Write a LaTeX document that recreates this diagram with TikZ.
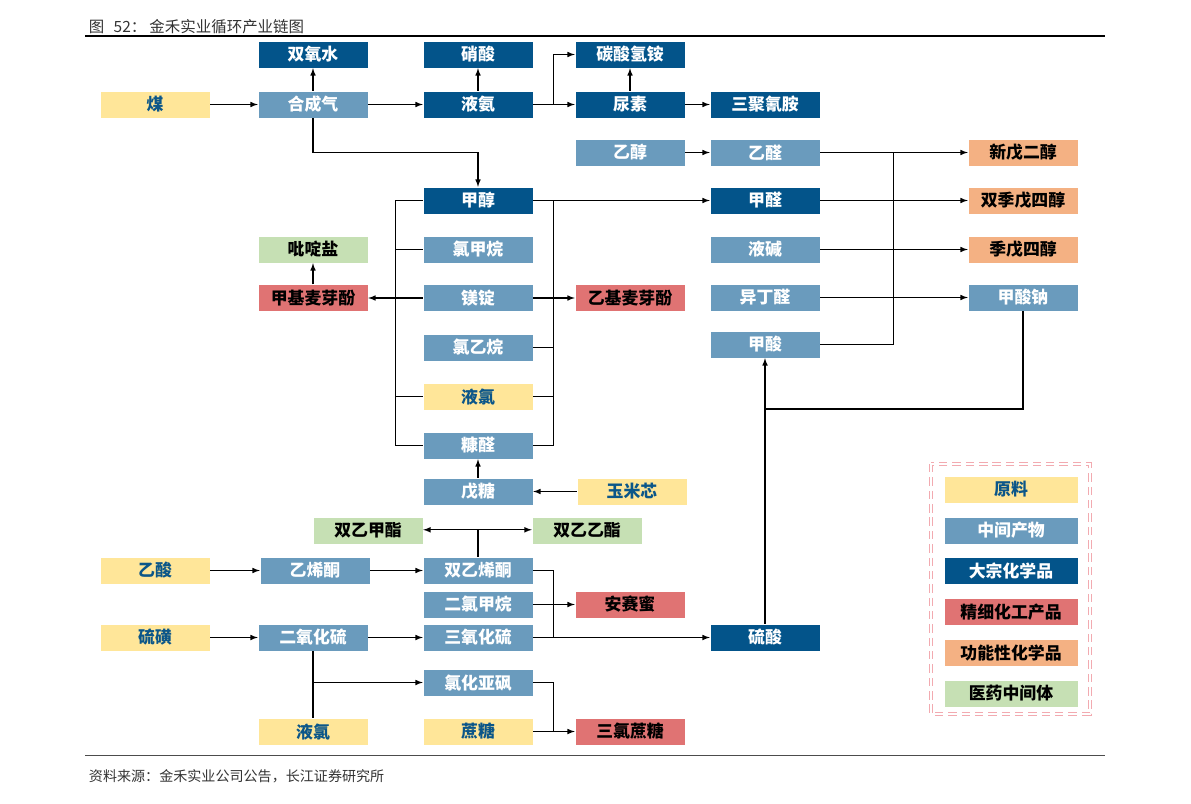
\documentclass[tikz,border=0pt]{standalone}
\usepackage{fontspec}
\setmainfont{Noto Sans CJK SC}
\usepackage{tikz}
\usetikzlibrary{arrows}
\definecolor{raw}{HTML}{FFE699}
\definecolor{rawtext}{HTML}{0B5689}
\definecolor{mid}{HTML}{6A9BBD}
\definecolor{bulk}{HTML}{03548A}
\definecolor{fine}{HTML}{E07373}
\definecolor{func}{HTML}{F4B183}
\definecolor{med}{HTML}{C6E0B4}
\definecolor{legline}{HTML}{F2AAB0}

\begin{document}
\begin{tikzpicture}[x=0.025cm,y=-0.025cm,>=latex,
	box/.style={minimum width=2.75cm,minimum height=0.675cm,inner sep=0pt,draw=white,line width=0.3pt,font=\fontsize{12}{14}\selectfont\bfseries},
	rawbox/.style={box,fill=raw,text=rawtext},
	midbox/.style={box,fill=mid,text=white},
	bulkbox/.style={box,fill=bulk,text=white},
	finebox/.style={box,fill=fine,text=black},
	funcbox/.style={box,fill=func,text=black},
	medbox/.style={box,fill=med,text=black},
	link/.style={line width=0.8pt}]
\useasboundingbox (0,0) rectangle (1191,803);
%title
\node[anchor=west,text=black!80,font=\fontsize{11}{13}\selectfont] (title) at (84,27) {图\hspace{0.6em}52：\hspace{0.2em}金禾实业循环产业链图};
\draw[line width=0.8pt] (85,36) -- (1105,36);
%rows
\path (155,104.5) node[rawbox] (coal) {煤}
	(313,54.5) node[bulkbox] (h2o2) {双氧水}
	(313,104.5) node[midbox] (syngas) {合成气}
	(478,54.5) node[bulkbox] (hno3) {硝酸}
	(478,104.5) node[bulkbox] (nh3) {液氨}
	(630,54.5) node[bulkbox] (nh4hco3) {碳酸氢铵}
	(630,104.5) node[bulkbox] (urea) {尿素}
	(765,104.5) node[bulkbox] (melamine) {三聚氰胺};
\path (630,152.5) node[midbox] (ethanol) {乙醇}
	(765,152.5) node[midbox] (acetal) {乙醛}
	(1023,152.5) node[funcbox] (npg) {新戊二醇}
	(478,200.5) node[bulkbox] (methanol) {甲醇}
	(765,200.5) node[bulkbox] (formal) {甲醛}
	(1023,200.5) node[funcbox] (dipenta) {双季戊四醇}
	(313,249.5) node[medbox] (pyridine) {吡啶盐}
	(478,249.5) node[midbox] (cmethane) {氯甲烷}
	(765,249.5) node[midbox] (naoh) {液碱}
	(1023,249.5) node[funcbox] (penta) {季戊四醇}
	(313,298) node[finebox] (maltol) {甲基麦芽酚}
	(478,298) node[midbox] (mg) {镁锭}
	(630,298) node[finebox] (ethylmaltol) {乙基麦芽酚}
	(765,297.5) node[midbox] (ibal) {异丁醛}
	(1023,297.5) node[midbox] (hcoona) {甲酸钠}
	(478,347.5) node[midbox] (etcl) {氯乙烷}
	(765,344.5) node[midbox] (hcooh) {甲酸}
	(478,396.5) node[rawbox] (cl2a) {液氯}
	(478,445.5) node[midbox] (furfural) {糠醛}
	(478,491.5) node[midbox] (pentose) {戊糖}
	(632,491.5) node[rawbox] (corncob) {玉米芯};
\path (368,530.5) node[medbox] (mester) {双乙甲酯}
	(587,530.5) node[medbox] (eester) {双乙乙酯}
	(155,570.5) node[rawbox] (acetic) {乙酸}
	(315,570.5) node[midbox] (ketene) {乙烯酮}
	(478,570.5) node[midbox] (diketene) {双乙烯酮}
	(478,604.5) node[midbox] (dcm) {二氯甲烷}
	(630,604.5) node[finebox] (aceK) {安赛蜜}
	(155,637.5) node[rawbox] (sulfur) {硫磺}
	(313,637.5) node[midbox] (so2) {二氧化硫}
	(478,637.5) node[midbox] (so3) {三氧化硫}
	(765,637.5) node[bulkbox] (h2so4) {硫酸}
	(478,682.5) node[midbox] (socl2) {氯化亚砜}
	(313,731.5) node[rawbox] (cl2b) {液氯}
	(478,731.5) node[rawbox] (sucrose) {蔗糖}
	(630,731.5) node[finebox] (sucralose) {三氯蔗糖};
%syngas and ammonia
\draw[->,link] (coal) -- (syngas);
\draw[->,link] (syngas) -- (h2o2);
\draw[->,link] (syngas) -- (nh3);
\draw[->,link] (nh3) -- (hno3);
\draw[->,link] (nh3) -- (urea);
\draw[->,link] (nh3.east) -- ++(20,0) |- (nh4hco3.west);
\draw[->,link] (urea) -- (nh4hco3);
\draw[->,link] (urea) -- (melamine);
\draw[->,link] (syngas.south) -- ++(0,34) -| (methanol.north);
%methanol block
\draw[link] (methanol.west) -- ++(-27,0) coordinate (lb) |- (furfural.west);
\draw[link] (cmethane.west) -- (cmethane.west -| lb);
\draw[link] (cl2a.west) -- (cl2a.west -| lb);
\draw[->,link] (mg.west) -- (maltol.east);
\draw[->,link] (maltol) -- (pyridine);
\draw[link] (methanol.east) -- ++(20,0) coordinate (rb) |- (furfural.east);
\draw[link] (etcl.east) -- (etcl.east -| rb);
\draw[link] (cl2a.east) -- (cl2a.east -| rb);
\draw[->,link] (mg.east) -- (ethylmaltol.west);
\draw[->,link] (methanol) -- (formal);
\draw[->,link] (pentose) -- (furfural);
\draw[->,link] (corncob) -- (pentose);
%polyols
\draw[->,link] (ethanol) -- (acetal);
\draw[link] (acetal.east) -- ++(73,0) coordinate (pb) |- (hcooh.east);
\draw[->,link] (acetal) -- (npg);
\draw[->,link] (formal) -- (dipenta);
\draw[->,link] (naoh) -- (penta);
\draw[->,link] (ibal) -- (hcoona);
\coordinate (join) at (765,409);
\draw[link] (hcoona.south) |- (join);
\draw[->,link] (h2so4) -- (hcooh);
%diketene and sulfur
\draw[link] (diketene.north) -- ++(0,-27) coordinate (dj);
\draw[->,link] (dj) -- (dj -| mester.east);
\draw[->,link] (dj) -- (dj -| eester.west);
\draw[->,link] (acetic) -- (ketene);
\draw[->,link] (ketene) -- (diketene);
\draw[link] (diketene.east) -- ++(20,0) |- (so3.east);
\draw[->,link] (dcm) -- (aceK);
\draw[->,link] (so3) -- (h2so4);
\draw[->,link] (sulfur) -- (so2);
\draw[->,link] (so2) -- (so3);
\draw[link] (so2) -- (cl2b);
\draw[->,link] (so2.south |- socl2.west) -- (socl2.west);
\draw[link] (socl2.east) -- ++(20,0) |- (sucrose.east);
\draw[->,link] (sucrose) -- (sucralose);
%legend
\draw[legline,double,double distance=1.2pt,line width=1pt,dash pattern=on 6pt off 3.5pt] (931,464) rectangle (1090,714);
\foreach \name/\sty [count=\i] in {原料/rawbox,中间产物/midbox,大宗化学品/bulkbox,精细化工产品/finebox,功能性化学品/funcbox,医药中间体/medbox}
	\node[\sty,minimum width=3.35cm] (leg\i) at (1011,{489.5+40.8*(\i-1)}) {\name};
%source
\draw[line width=0.6pt,black!70] (85,755) -- (1105,755);
\node[anchor=west,text=black!80,font=\fontsize{10}{12}\selectfont] (source) at (84,776) {资料来源：金禾实业公司公告，长江证券研究所};
\end{tikzpicture}
\end{document}
